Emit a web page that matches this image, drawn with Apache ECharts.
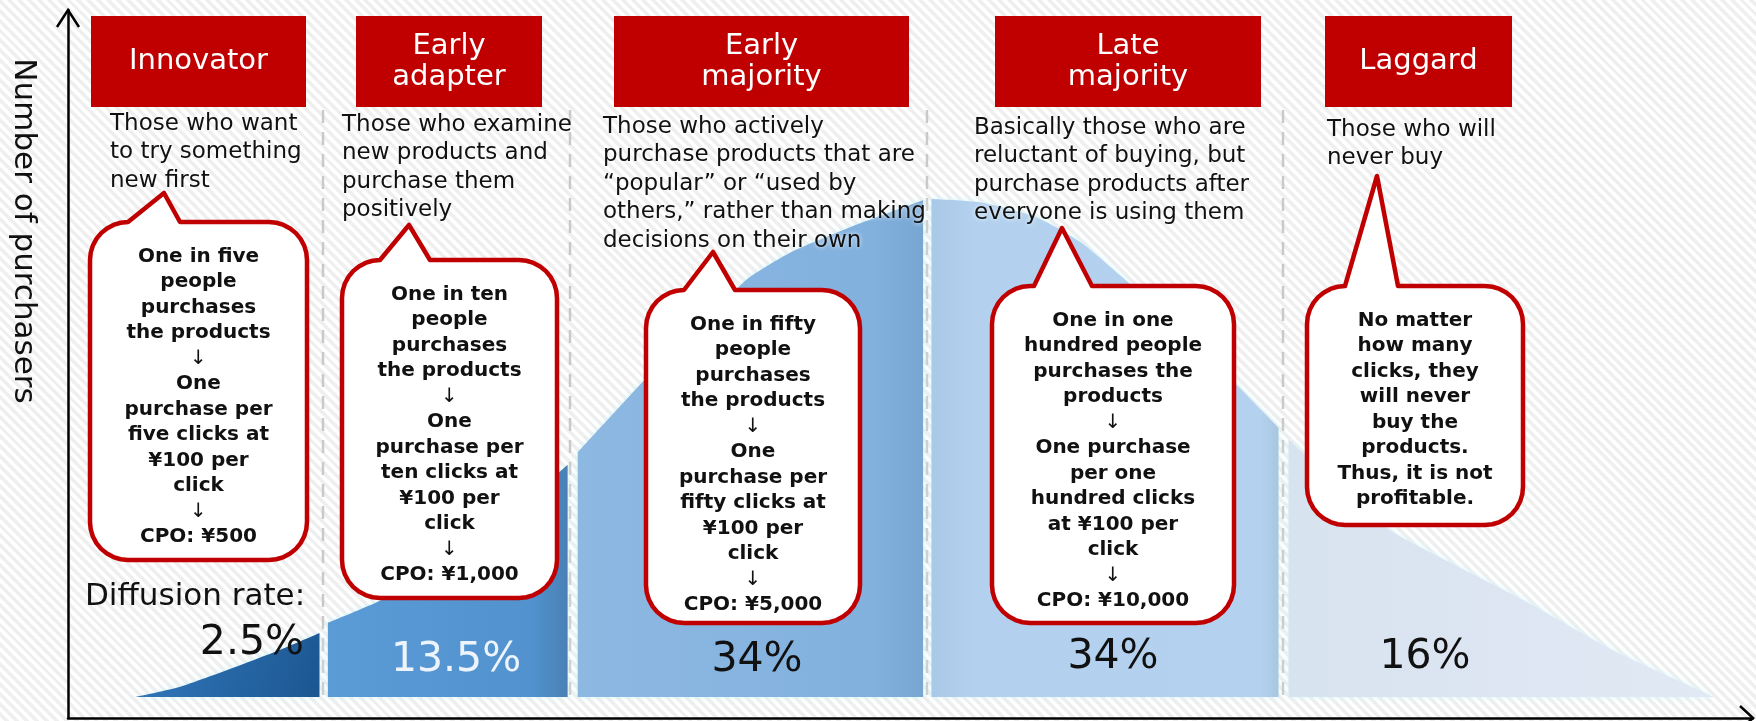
<!DOCTYPE html>
<html>
<head>
<meta charset="utf-8">
<title>Diffusion rate and CPO</title>
<script src="https://cdn.jsdelivr.net/npm/echarts@6.0.0/dist/echarts.min.js"></script>
<style>
  html, body { margin: 0; padding: 0; }
  #chart {
    width: 1756px;
    height: 721px;
    background: repeating-linear-gradient(45deg, #ffffff 0px, #ffffff 3.5px, #efefef 3.5px, #efefef 7px);
  }
</style>
</head>
<body>
<div id="chart"></div>
<script>
var FONT = '"DejaVu Sans", Verdana, sans-serif';

// ---- data ----
var segmentNames = ['Innovator', 'Early\nadapter', 'Early\nmajority', 'Late\nmajority', 'Laggard'];
var shares = ['2.5%', '13.5%', '34%', '34%', '16%'];
var descriptions = [
    'Those who want\nto try something\nnew first',
    'Those who examine\nnew products and\npurchase them\npositively',
    'Those who actively\npurchase products that are\n\u201cpopular\u201d or \u201cused by\nothers,\u201d rather than making\ndecisions on their own',
    'Basically those who are\nreluctant of buying, but\npurchase products after\neveryone is using them',
    'Those who will\nnever buy'
];
var callouts = [
    'One in five\npeople\npurchases\nthe products\n↓\nOne\npurchase per\nfive clicks at\n¥100 per\nclick\n↓\nCPO: ¥500',
    'One in ten\npeople\npurchases\nthe products\n↓\nOne\npurchase per\nten clicks at\n¥100 per\nclick\n↓\nCPO: ¥1,000',
    'One in fifty\npeople\npurchases\nthe products\n↓\nOne\npurchase per\nfifty clicks at\n¥100 per\nclick\n↓\nCPO: ¥5,000',
    'One in one\nhundred people\npurchases the\nproducts\n↓\nOne purchase\nper one\nhundred clicks\nat ¥100 per\nclick\n↓\nCPO: ¥10,000',
    'No matter\nhow many\nclicks, they\nwill never\nbuy the\nproducts.\nThus, it is not\nprofitable.'
];
var yAxisTitle = 'Number of purchasers';
var rateTitle = 'Diffusion rate:';

// number of purchasers along the adoption timeline (x: 0-100, y: 0-100)
var innovatorCurve = [[4.0, 0], [6.7, 1.5], [9.7, 4.1], [12.7, 6.9], [15.0, 9.3]];
var earlyAdapterCurve = [[15.5, 10.8], [18.6, 14.0], [22.8, 19.7], [26.4, 26.5], [29.8, 33.8]];
var earlyMajorityCurve = [[30.4, 35.6], [34.6, 46.7], [37.7, 53.9], [40.5, 60.8], [43.1, 64.7], [47.1, 68.8], [51.0, 72.3]];
var lateMajorityCurve = [[51.5, 72.5], [54.4, 72.0], [57.8, 69.8], [60.4, 66.2], [62.7, 61.5], [66.4, 53.5], [69.8, 45.2], [72.2, 39.2]];
var laggardCurve = [[72.8, 37.5], [78.5, 24.8], [82.5, 19.5], [86.8, 14.1], [92.0, 7.0], [98.2, 0]];
var curves = [innovatorCurve, earlyAdapterCurve, earlyMajorityCurve, lateMajorityCurve, laggardCurve];

// ---- layout ----
var boxLayout = [[91, 215], [356, 186], [614, 295], [995, 266], [1325, 187]];
var descLayout = [[110, 124], [342, 125], [603, 127], [974, 128], [1327, 130]];
var bubbleLayout = [
    { x: 90, y: 222, w: 217, h: 338, tip: [164, 193], base: [127, 180] },
    { x: 342, y: 260, w: 215, h: 338, tip: [409, 225], base: [378, 430] },
    { x: 646, y: 290, w: 214, h: 333, tip: [713, 252], base: [684, 735] },
    { x: 992, y: 286, w: 242, h: 337, tip: [1062, 228], base: [1034, 1092] },
    { x: 1307, y: 286, w: 216, h: 239, tip: [1377, 176], base: [1345, 1398] }
];
var shareLayout = [[304, 643, 'right'], [456, 660, 'center'], [757, 660, 'center'], [1113, 657, 'center'], [1425, 657, 'center']];
var shareColors = ['#111', '#eef4fb', '#111', '#111', '#111'];
var dividerX = [323, 570, 927, 1283];

var fills = [
    { type: 'linear', x: 0, y: 0, x2: 1, y2: 1, colorStops: [{ offset: 0, color: '#3479bd' }, { offset: 1, color: '#1b5691' }] },
    { type: 'linear', x: 0, y: 0, x2: 1, y2: 0, colorStops: [{ offset: 0, color: '#5b9bd6' }, { offset: 0.85, color: '#5192cf' }, { offset: 1, color: '#4a81b5' }] },
    { type: 'linear', x: 0, y: 0, x2: 1, y2: 0, colorStops: [{ offset: 0, color: '#8db8e2' }, { offset: 0.85, color: '#82b1de' }, { offset: 1, color: '#78a6d2' }] },
    { type: 'linear', x: 0, y: 0, x2: 1, y2: 0, colorStops: [{ offset: 0, color: '#a9c9e8' }, { offset: 0.12, color: '#b3d1ee' }, { offset: 0.95, color: '#b4d2ef' }, { offset: 1, color: '#a9c6e0' }] },
    { type: 'linear', x: 0, y: 0, x2: 1, y2: 0, colorStops: [{ offset: 0, color: '#d8e3f0' }, { offset: 1, color: '#e1e9f4' }] }
];

var RED = '#c00000';

// outline of a speech bubble: rounded box plus a tail on its top edge
function bubblePoints(b) {
    var x = b.x, y = b.y, w = b.w, h = b.h, r = 38;
    var pts = [];
    function corner(cx, cy, a0) {
        for (var k = 0; k <= 8; k++) {
            var a = a0 + (Math.PI / 2) * k / 8;
            pts.push([cx + r * Math.cos(a), cy + r * Math.sin(a)]);
        }
    }
    pts.push([Math.max(b.base[0], x + r), y]);
    pts.push(b.tip);
    pts.push([b.base[1], y]);
    corner(x + w - r, y + r, -Math.PI / 2);
    corner(x + w - r, y + h - r, 0);
    corner(x + r, y + h - r, Math.PI / 2);
    corner(x + r, y + r, Math.PI);
    return pts;
}

var graphics = [];

// dashed dividers, behind the curve
dividerX.forEach(function (x) {
    graphics.push({
        type: 'line', z: 1, silent: true,
        shape: { x1: x, y1: 110, x2: x, y2: 697 },
        style: { stroke: '#c9c9c9', lineWidth: 2.5, lineDash: [13, 9] }
    });
});

// axis arrow heads
graphics.push({
    type: 'polyline', z: 20, silent: true,
    shape: { points: [[57, 27], [68, 10], [79, 27]] },
    style: { stroke: '#000', lineWidth: 2.5, fill: null }
});
graphics.push({
    type: 'polyline', z: 20, silent: true,
    shape: { points: [[1740, 706], [1753, 718], [1740, 730]] },
    style: { stroke: '#000', lineWidth: 2.5, fill: null }
});

// y-axis title
graphics.push({
    type: 'text', z: 20, silent: true,
    x: 23, y: 231, rotation: -Math.PI / 2,
    style: {
        text: yAxisTitle, fontFamily: FONT, fontSize: 31, fill: '#111',
        align: 'center', verticalAlign: 'middle'
    }
});

// red headers
segmentNames.forEach(function (name, i) {
    var bx = boxLayout[i][0], bw = boxLayout[i][1];
    graphics.push({
        type: 'rect', z: 10, silent: true,
        shape: { x: bx, y: 16, width: bw, height: 91 },
        style: { fill: RED }
    });
    graphics.push({
        type: 'text', z: 11, silent: true,
        style: {
            text: name, x: bx + bw / 2, y: 61.5,
            fontFamily: FONT, fontSize: 29, fill: '#ffffff', lineHeight: 31,
            align: 'center', verticalAlign: 'middle'
        }
    });
});

// descriptions
descriptions.forEach(function (d, i) {
    graphics.push({
        type: 'text', z: 11, silent: true,
        style: {
            text: d, x: descLayout[i][0], y: descLayout[i][1] - 14.25,
            fontFamily: FONT, fontSize: 23, fill: '#111', lineHeight: 28.5,
            align: 'left', verticalAlign: 'top',
            textShadowColor: 'rgba(255,255,255,0.95)', textShadowBlur: 4
        }
    });
});

// callout bubbles
callouts.forEach(function (c, i) {
    var b = bubbleLayout[i];
    graphics.push({
        type: 'polygon', z: 12, silent: true,
        shape: { points: bubblePoints(b) },
        style: { fill: '#ffffff', stroke: RED, lineWidth: 4.5, lineJoin: 'round' }
    });
    graphics.push({
        type: 'text', z: 13, silent: true,
        style: {
            text: c.replace(/↓/g, '{a|↓}'),
            x: b.x + b.w / 2, y: b.y + 22,
            fontFamily: FONT, fontSize: 20, fontWeight: 'bold', fill: '#111', lineHeight: 25.5,
            align: 'center', verticalAlign: 'top',
            rich: { a: { fontFamily: FONT, fontSize: 20, fontWeight: 'normal', fill: '#111', lineHeight: 25.5 } }
        }
    });
});

// diffusion rate
graphics.push({
    type: 'text', z: 11, silent: true,
    style: {
        text: rateTitle, x: 85, y: 597, fontFamily: FONT, fontSize: 31, fill: '#111',
        align: 'left', verticalAlign: 'middle'
    }
});
shares.forEach(function (s, i) {
    var p = shareLayout[i];
    graphics.push({
        type: 'text', z: 11, silent: true,
        style: {
            text: s, x: p[0], y: p[1], fontFamily: FONT, fontSize: 41, fill: shareColors[i],
            align: p[2], verticalAlign: 'middle'
        }
    });
});

var chart = echarts.init(document.getElementById('chart'));
chart.setOption({
    animation: false,
    grid: { left: 68, right: 3, top: 10, bottom: 3 },
    xAxis: {
        type: 'value', min: 0, max: 100.5,
        axisLine: { onZero: false, lineStyle: { color: '#000', width: 2.5 } },
        axisTick: { show: false }, axisLabel: { show: false }, splitLine: { show: false }
    },
    yAxis: {
        type: 'value', min: -3.06, max: 100,
        axisLine: { show: true, lineStyle: { color: '#000', width: 2.5 } },
        axisTick: { show: false }, axisLabel: { show: false }, splitLine: { show: false }
    },
    series: curves.map(function (c, i) {
        return {
            type: 'line',
            data: c,
            smooth: 0.2,
            symbol: 'none',
            silent: true,
            z: 2,
            lineStyle: { width: 0 },
            areaStyle: { color: fills[i], opacity: 1, shadowColor: 'rgba(212,246,250,0.9)', shadowBlur: 6 }
        };
    }),
    graphic: graphics
});
</script>
</body>
</html>
